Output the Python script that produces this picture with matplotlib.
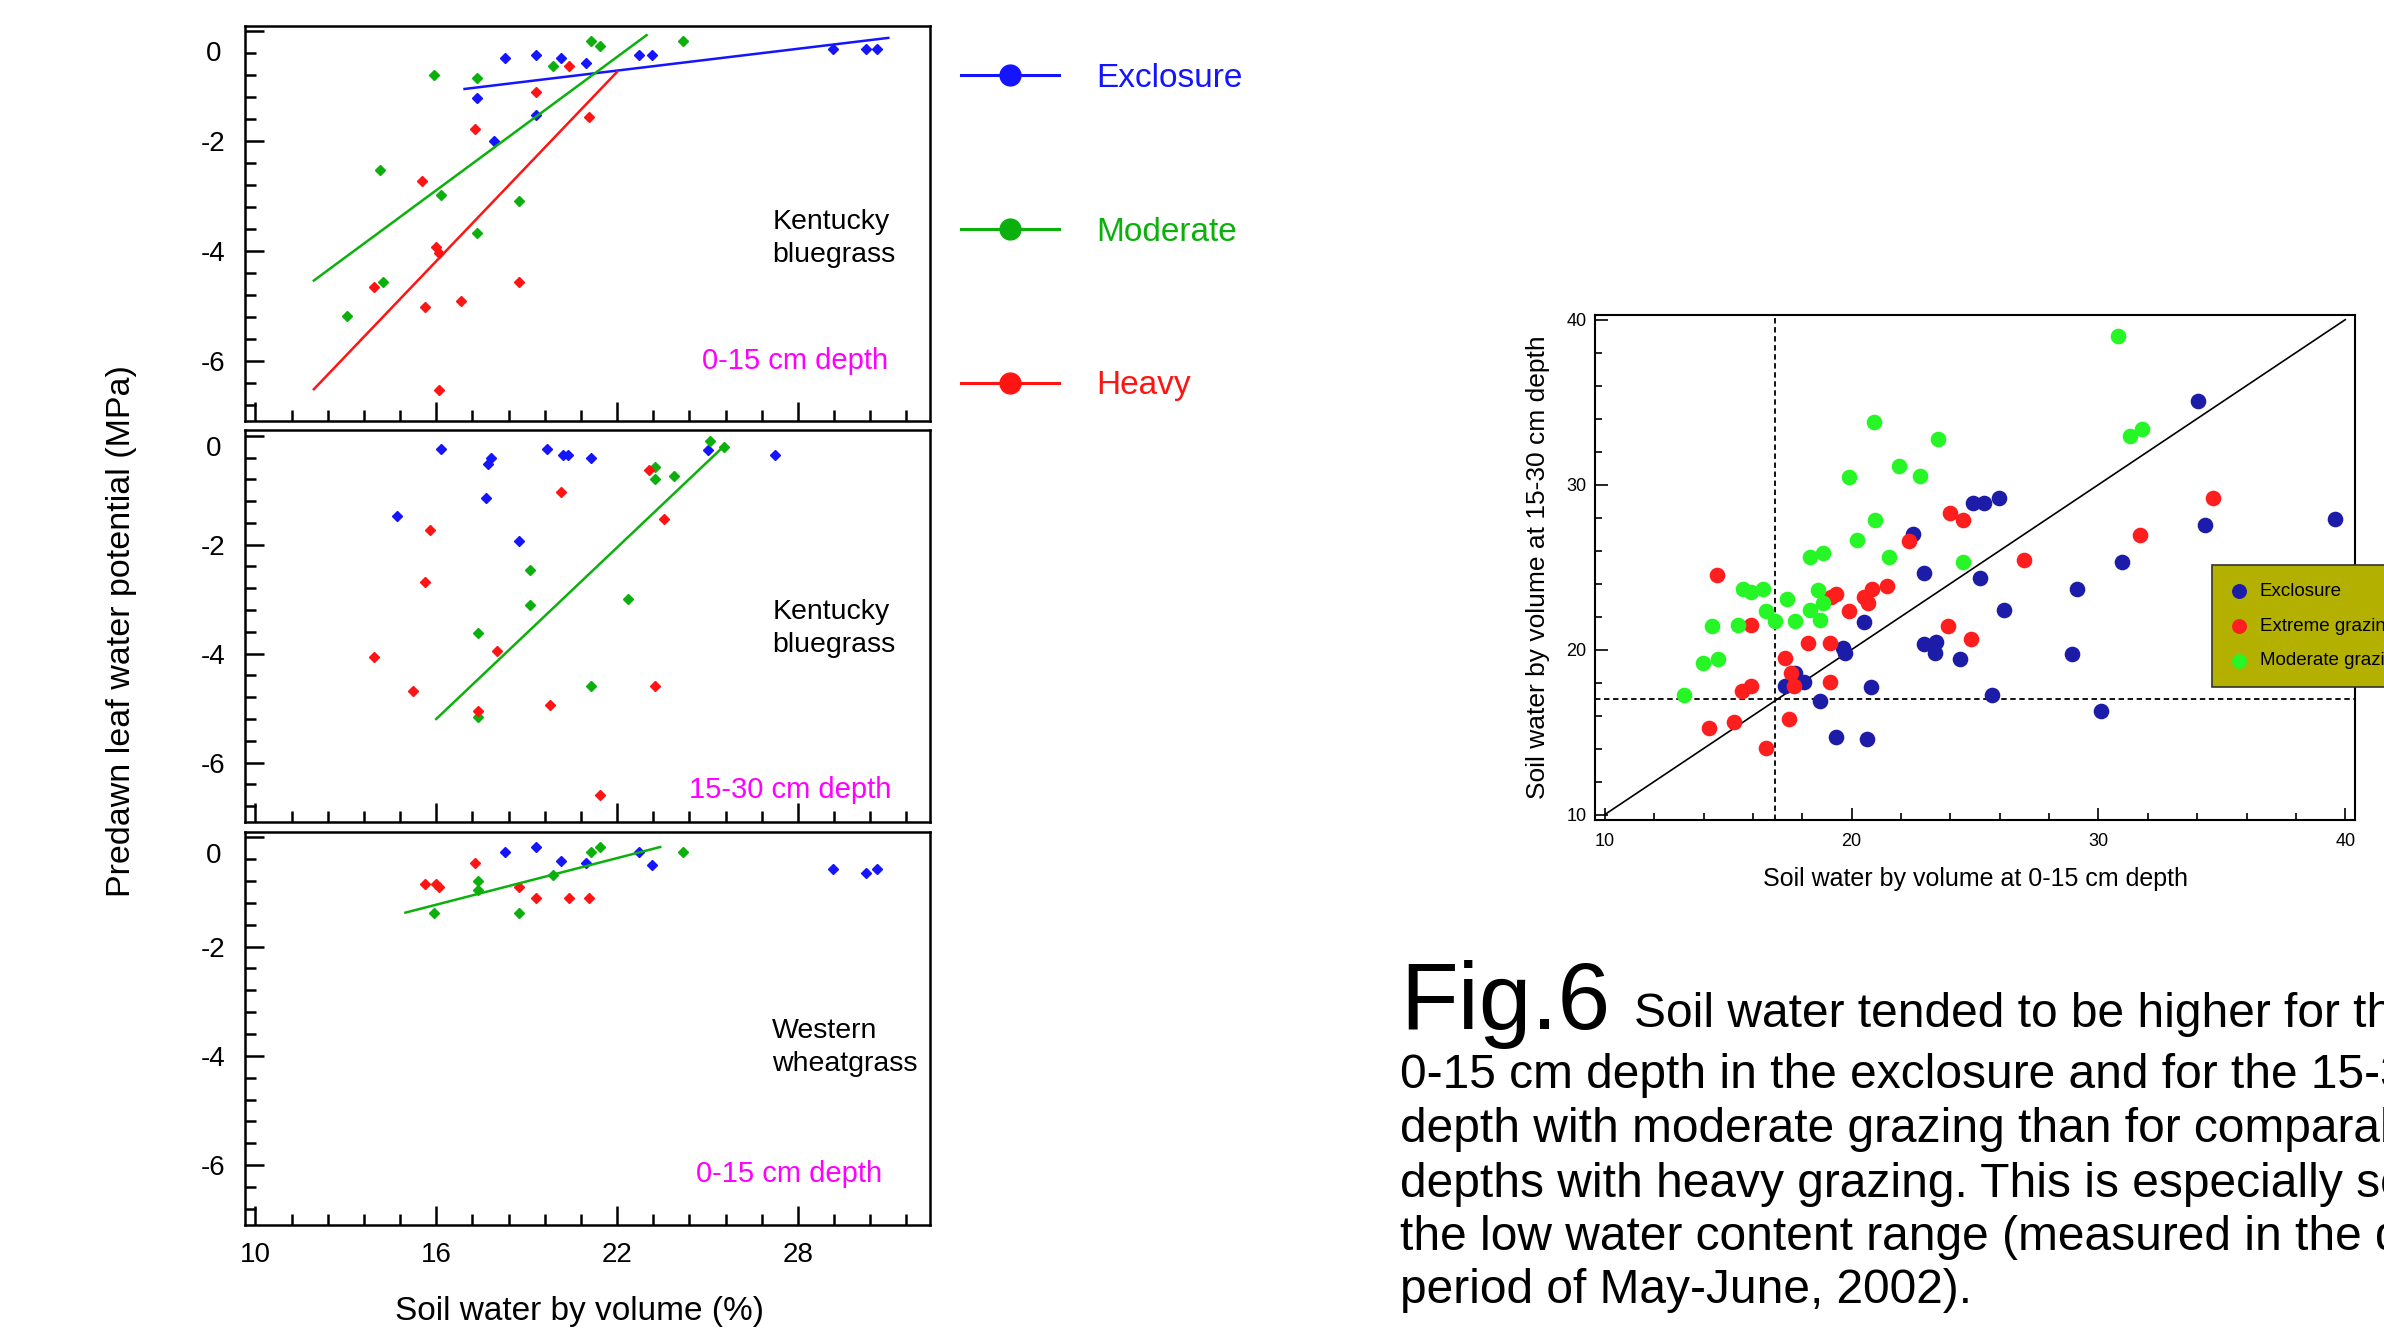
import numpy as np
import matplotlib.pyplot as plt
from matplotlib.lines import Line2D
from matplotlib.ticker import FixedLocator, MultipleLocator, NullFormatter

plt.rcParams['font.family'] = ['Liberation Sans', 'DejaVu Sans']

# ---- left panels: predawn leaf water potential vs soil water ----
# panel 1, Kentucky bluegrass 0-15 cm
kb1_exc_x = [18.28, 19.30, 20.13, 20.97, 17.35, 19.30, 17.91, 22.72, 23.17, 29.18, 30.27, 30.64]
kb1_exc_y = [-0.49, -0.43, -0.49, -0.58, -1.22, -1.53, -1.99, -0.43, -0.43, -0.32, -0.32, -0.32]
kb1_mod_x = [15.91, 17.35, 19.86, 21.15, 21.43, 24.19, 14.13, 16.15, 18.75, 17.35, 14.24, 13.04]
kb1_mod_y = [-0.80, -0.85, -0.64, -0.17, -0.27, -0.17, -2.52, -2.98, -3.09, -3.67, -4.56, -5.18]
kb1_hvy_x = [20.41, 19.30, 21.06, 17.28, 15.53, 15.98, 16.08, 13.95, 18.75, 15.62, 16.82, 16.08]
kb1_hvy_y = [-0.64, -1.11, -1.57, -1.78, -2.73, -3.92, -4.03, -4.65, -4.56, -5.02, -4.92, -6.53]
kb1_fits = {'exc': ([16.94, 31.0], [-1.05, -0.12]),
            'mod': ([11.94, 22.98], [-4.54, -0.07]),
            'hvy': ([11.94, 22.0], [-6.52, -0.74])}

# panel 2, Kentucky bluegrass 15-30 cm
kb2_exc_x = [16.15, 19.68, 20.21, 20.36, 17.82, 17.73, 21.15, 17.66, 14.71, 18.75, 25.01, 27.23]
kb2_exc_y = [-0.25, -0.25, -0.36, -0.36, -0.41, -0.52, -0.41, -1.15, -1.47, -1.94, -0.26, -0.36]
kb2_mod_x = [25.10, 25.56, 23.25, 23.25, 23.90, 19.12, 19.12, 22.35, 17.37, 21.15, 17.37]
kb2_mod_y = [-0.09, -0.20, -0.57, -0.79, -0.73, -2.47, -3.11, -3.00, -3.63, -4.59, -5.17]
kb2_hvy_x = [23.07, 20.13, 23.55, 15.80, 15.62, 13.95, 18.02, 15.24, 17.37, 19.77, 23.25, 21.43]
kb2_hvy_y = [-0.62, -1.04, -1.52, -1.73, -2.69, -4.06, -3.95, -4.69, -5.05, -4.95, -4.59, -6.60]
kb2_fits = {'mod': ([16.0, 25.53], [-5.20, -0.20])}

# panel 3, Western wheatgrass 0-15 cm
ww_exc_x = [18.28, 19.30, 20.13, 20.97, 22.72, 23.17, 29.18, 30.27, 30.64]
ww_exc_y = [-0.28, -0.18, -0.43, -0.48, -0.28, -0.50, -0.59, -0.65, -0.59]
ww_mod_x = [17.37, 17.37, 19.86, 21.15, 21.43, 24.19, 15.91, 18.75]
ww_mod_y = [-0.80, -0.96, -0.70, -0.28, -0.18, -0.28, -1.39, -1.39]
ww_hvy_x = [17.28, 15.62, 15.98, 16.08, 18.75, 19.30, 20.41, 21.06]
ww_hvy_y = [-0.48, -0.85, -0.85, -0.91, -0.91, -1.11, -1.11, -1.11]
ww_fits = {'mod': ([14.98, 23.43], [-1.38, -0.18])}

species = ["Kentucky\nbluegrass", "Kentucky\nbluegrass", "Western\nwheatgrass"]
species_y = [-3.77, -3.53, -3.84]
depths = ["0-15 cm depth", "15-30 cm depth", "0-15 cm depth"]
depth_xy = [(31.0, -6.0), (31.1, -6.5), (30.8, -6.16)]
zero_label_y = [-0.41, -0.24, -0.34]

# ---- right panel: soil water 0-15 vs 15-30 cm ----
sw_exc_x = [34.05, 25.97, 24.92, 25.35, 22.47, 34.30, 39.57, 22.93, 25.19, 30.96, 29.13, 26.18, 20.50,
            19.66, 19.73, 22.93, 23.43, 23.36, 24.39, 28.92, 17.71, 18.08, 17.30, 20.78, 18.72, 25.70,
            30.11, 19.38, 20.62]
sw_exc_y = [35.06, 29.19, 28.87, 28.87, 27.00, 27.53, 27.94, 24.67, 24.34, 25.33, 23.67, 22.42, 21.66,
            20.09, 19.82, 20.32, 20.44, 19.82, 19.42, 19.75, 18.59, 18.01, 17.81, 17.74, 16.88, 17.25,
            16.30, 14.73, 14.57]
sw_ext_x = [34.65, 24.00, 24.51, 22.33, 31.69, 26.98, 14.53, 21.44, 20.82, 19.38, 19.15, 20.50, 20.68,
            19.91, 15.93, 23.91, 18.24, 19.13, 24.85, 17.32, 17.53, 17.67, 19.13, 15.93, 15.54, 15.24,
            14.21, 17.48, 16.52]
sw_ext_y = [29.19, 28.31, 27.85, 26.58, 26.93, 25.43, 24.55, 23.86, 23.70, 23.35, 23.21, 23.16, 22.82,
            22.36, 21.50, 21.41, 20.42, 20.42, 20.62, 19.47, 18.61, 17.78, 18.01, 17.81, 17.48, 15.59,
            15.22, 15.82, 14.06]
sw_mod_x = [30.78, 20.89, 23.52, 31.28, 31.78, 21.90, 19.91, 22.77, 20.94, 20.21, 18.33, 18.83, 21.53,
            24.51, 15.58, 15.93, 16.41, 17.37, 18.63, 18.83, 16.52, 18.33, 16.89, 17.71, 18.72, 14.35,
            15.38, 13.98, 14.58, 13.23]
sw_mod_y = [38.98, 33.79, 32.77, 32.96, 33.37, 31.11, 30.46, 30.53, 27.85, 26.67, 25.59, 25.87, 25.59,
            25.33, 23.67, 23.49, 23.67, 23.09, 23.63, 22.82, 22.33, 22.42, 21.73, 21.73, 21.82, 21.41,
            21.50, 19.17, 19.42, 17.23]
cut_x, cut_y = 16.9, 17.0

blue, green, red = '#1414ff', '#0cb00c', '#ff1414'

fig = plt.figure(figsize=(23.84, 13.38), dpi=100)

panel_pos = [[0.1027, 0.6853, 0.2876, 0.2954],
             [0.1027, 0.3853, 0.2876, 0.2931],
             [0.1027, 0.0842, 0.2876, 0.2942]]
panels = [
    (kb1_exc_x, kb1_exc_y, kb1_mod_x, kb1_mod_y, kb1_hvy_x, kb1_hvy_y, kb1_fits),
    (kb2_exc_x, kb2_exc_y, kb2_mod_x, kb2_mod_y, kb2_hvy_x, kb2_hvy_y, kb2_fits),
    (ww_exc_x, ww_exc_y, ww_mod_x, ww_mod_y, ww_hvy_x, ww_hvy_y, ww_fits),
]
cols = {'exc': blue, 'mod': green, 'hvy': red}

for i, (ex, ey, mx, my, hx, hy, fits) in enumerate(panels):
    ax = fig.add_axes(panel_pos[i])
    ax.plot(ex, ey, 'D', color=blue, ms=5.5, mec=blue)
    ax.plot(mx, my, 'D', color=green, ms=5.5, mec=green)
    ax.plot(hx, hy, 'D', color=red, ms=5.5, mec=red)
    for k, (fx, fy) in fits.items():
        ax.plot(fx, fy, '-', color=cols[k], lw=1.8)
    ax.set_xlim(9.65, 32.4)
    ax.set_ylim(-7.1, 0.1)
    ax.xaxis.set_major_locator(FixedLocator([10, 16, 22, 28]))
    ax.xaxis.set_minor_locator(FixedLocator(np.arange(10, 32.5, 1.2)))
    ax.yaxis.set_major_locator(FixedLocator([0, -2, -4, -6]))
    ax.yaxis.set_minor_locator(FixedLocator(np.arange(-6.8, 0.01, 0.4)))
    ax.set_yticklabels(['', '-2', '-4', '-6'])
    ax.text(-0.034, zero_label_y[i], '0', transform=ax.get_yaxis_transform(),
            ha='right', va='center', fontsize=20)
    ax.tick_params(which='both', direction='in', top=False, right=False, width=1.8,
                   labelsize=20)
    ax.tick_params(which='major', length=14)
    ax.tick_params(which='minor', length=8)
    ax.tick_params(axis='y', pad=14)
    ax.tick_params(axis='x', pad=12)
    if i < 2:
        ax.xaxis.set_major_formatter(NullFormatter())
    for s in ax.spines.values():
        s.set_linewidth(1.8)
    ax.text(27.15, species_y[i], species[i], fontsize=20.5, ha='left', va='center',
            linespacing=1.35)
    ax.text(depth_xy[i][0], depth_xy[i][1], depths[i], fontsize=21, color='#ff00ff',
            ha='right', va='center')

fig.text(0.051, 0.528, "Predawn leaf water potential (MPa)", rotation=90,
         ha='center', va='center', fontsize=24.5)
fig.text(0.243, 0.0195, "Soil water by volume (%)", ha='center', va='center', fontsize=24)

handles = [Line2D([], [], color=c, marker='o', ms=15, lw=2.2) for c in (blue, green, red)]
fig.legend(handles, ["Exclosure", "Moderate", "Heavy"], loc='upper left',
           bbox_to_anchor=(0.403, 0.953), frameon=False, fontsize=24,
           labelcolor=[blue, green, red], handlelength=2.95, handletextpad=1.1,
           labelspacing=3.68, borderaxespad=0, borderpad=0)

# right scatter
ax2 = fig.add_axes([0.669, 0.3875, 0.3189, 0.3773])
ax2.plot([10, 40], [10, 40], 'k-', lw=1.2)
ax2.axvline(cut_x, color='k', ls='--', lw=1.3, dashes=(3, 2))
ax2.axhline(cut_y, color='k', ls='--', lw=1.3, dashes=(3, 2))
ax2.scatter(sw_exc_x, sw_exc_y, s=105, color='#1c1ca8', zorder=3, label='Exclosure')
ax2.scatter(sw_ext_x, sw_ext_y, s=105, color='#ff1e1e', zorder=3, label='Extreme grazing')
ax2.scatter(sw_mod_x, sw_mod_y, s=105, color='#26f526', zorder=3, label='Moderate grazing')
ax2.set_xlim(9.6, 40.4)
ax2.set_ylim(9.7, 40.3)
ax2.xaxis.set_major_locator(MultipleLocator(10))
ax2.xaxis.set_minor_locator(MultipleLocator(2))
ax2.yaxis.set_major_locator(MultipleLocator(10))
ax2.yaxis.set_minor_locator(MultipleLocator(2))
ax2.tick_params(which='both', direction='in', labelsize=13, width=1.2)
ax2.tick_params(which='major', length=9)
ax2.tick_params(which='minor', length=5)
ax2.tick_params(axis='x', pad=10)
ax2.tick_params(axis='y', pad=6)
for s in ax2.spines.values():
    s.set_linewidth(1.5)
ax2.set_xlabel("Soil water by volume at 0-15 cm depth", fontsize=18, labelpad=12)
ax2.set_ylabel("Soil water by volume at 15-30 cm depth", fontsize=19, labelpad=12)
leg = ax2.legend(loc='upper left', bbox_to_anchor=(0.9279, 0.5780),
                 bbox_transform=fig.transFigure, fontsize=13.5, frameon=True,
                 fancybox=False, facecolor='#b4b000', edgecolor='#333333', framealpha=1,
                 handlelength=1.0, handletextpad=0.6, labelspacing=0.95, borderpad=0.95,
                 borderaxespad=0, markerscale=0.95)
leg.get_frame().set_linewidth(1.2)
leg.set_zorder(5)

# caption
fig.text(0.5872, 1 - 1029 / 1338, "Fig.6", fontsize=68, va='baseline', ha='left')
fig.text(0.6854, 1 - 1027 / 1338, "Soil water tended to be higher for the",
         fontsize=34.5, va='baseline', ha='left')
cap_lines = ["0-15 cm depth in the exclosure and for the 15-30 cm",
             "depth with moderate grazing than for comparable",
             "depths with heavy grazing. This is especially so in",
             "the low water content range (measured in the dry",
             "period of May-June, 2002)."]
cap_base = [1088, 1142, 1197, 1250, 1303]
for t, b in zip(cap_lines, cap_base):
    fig.text(0.5872, 1 - b / 1338, t, fontsize=34.5, va='baseline', ha='left')

plt.savefig("out.png", dpi=100)
